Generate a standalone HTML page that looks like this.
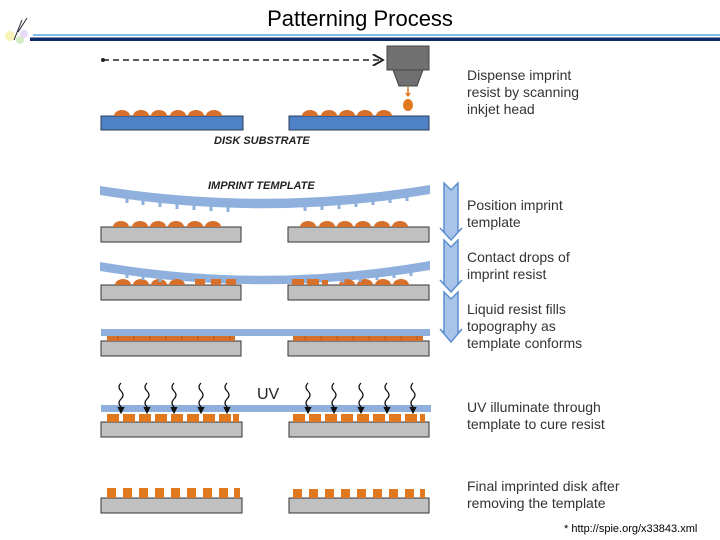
<!DOCTYPE html>
<html><head><meta charset="utf-8"><style>
body{margin:0;background:#fff;}
svg{display:block;}
text{font-family:"Liberation Sans",sans-serif;}
</style></head><body>
<svg width="720" height="540" viewBox="0 0 720 540" xmlns="http://www.w3.org/2000/svg">
<defs>
<marker id="ah" markerWidth="8" markerHeight="8" refX="7" refY="4" orient="auto"><path d="M0,0 L7,4 L0,8" fill="none" stroke="#222" stroke-width="1.3"/></marker>
<marker id="ak" markerWidth="6" markerHeight="6" refX="5" refY="3" orient="auto"><path d="M0,0 L6,3 L0,6 Z" fill="#111"/></marker>
</defs>
<!-- logo -->
<circle cx="10" cy="36" r="5" fill="#f3e98a" opacity=".6"/>
<circle cx="20" cy="40" r="4" fill="#b8e0a0" opacity=".6"/>
<circle cx="24" cy="34" r="4" fill="#d9c0f0" opacity=".6"/>
<path d="M14,40 L22,20 M18,32 L27,18" stroke="#223" stroke-width="1" fill="none"/>
<!-- title -->
<text x="360" y="26" font-size="22" text-anchor="middle" fill="#000">Patterning Process</text>
<rect x="33" y="34" width="687" height="2" fill="#7fbfe6"/>
<rect x="30" y="37.5" width="690" height="3.5" fill="#0c2a6a"/>
<!-- row 1 -->
<line x1="103" y1="60" x2="383" y2="60" stroke="#222" stroke-width="1.5" stroke-dasharray="6,4" marker-end="url(#ah)"/>
<circle cx="103" cy="60" r="2" fill="#222"/>
<rect x="387" y="46" width="42" height="24" fill="#707070" stroke="#444"/>
<path d="M393,70 L423,70 L417,86 L399,86 Z" fill="#707070" stroke="#444"/>
<line x1="408" y1="87" x2="408" y2="96" stroke="#e07820" stroke-width="1.5"/>
<path d="M405,93 L408,97 L411,93" fill="#e07820"/>
<ellipse cx="408" cy="105" rx="5" ry="6" fill="#e07820"/>
<rect x="101" y="116" width="142" height="14" fill="#4f81c7" stroke="#2a3d5a"/>
<rect x="289" y="116" width="140" height="14" fill="#4f81c7" stroke="#2a3d5a"/>
<g fill="#d6702a">
<path d="M114,116 a8,6 0 0 1 16,0Z M133,116 a8,6 0 0 1 16,0Z M151,116 a8,6 0 0 1 16,0Z M170,116 a8,6 0 0 1 16,0Z M188,116 a8,6 0 0 1 16,0Z M206,116 a8,6 0 0 1 16,0Z"/>
<path d="M302,116 a8,6 0 0 1 16,0Z M321,116 a8,6 0 0 1 16,0Z M339,116 a8,6 0 0 1 16,0Z M357,116 a8,6 0 0 1 16,0Z M376,116 a8,6 0 0 1 16,0Z"/>
</g>
<text x="214" y="144" font-size="11" font-weight="bold" font-style="italic" fill="#222">DISK SUBSTRATE</text>
<!-- row 2 -->
<text x="208" y="189" font-size="11" font-weight="bold" font-style="italic" fill="#222">IMPRINT TEMPLATE</text>
<path d="M100,186 Q265,212 430,185 L430,194 Q265,222 100,195 Z" fill="#8fb0dc"/>
<g stroke="#8fb0dc" stroke-width="3">
<line x1="127" y1="197" x2="127" y2="203"/><line x1="143" y1="199" x2="143" y2="205"/><line x1="160" y1="201" x2="160" y2="207"/><line x1="177" y1="203" x2="177" y2="209"/><line x1="194" y1="204" x2="194" y2="210"/><line x1="211" y1="205" x2="211" y2="211"/><line x1="228" y1="206" x2="228" y2="212"/>
<line x1="305" y1="205" x2="305" y2="211"/><line x1="322" y1="204" x2="322" y2="210"/><line x1="339" y1="203" x2="339" y2="209"/><line x1="356" y1="201" x2="356" y2="207"/><line x1="373" y1="199" x2="373" y2="205"/><line x1="390" y1="197" x2="390" y2="203"/><line x1="407" y1="195" x2="407" y2="201"/>
</g>
<rect x="101" y="227" width="140" height="15" fill="#c0c0c0" stroke="#333"/>
<rect x="288" y="227" width="141" height="15" fill="#c0c0c0" stroke="#333"/>
<g fill="#d6702a">
<path d="M113,227 a8,6 0 0 1 16,0Z M132,227 a8,6 0 0 1 16,0Z M150,227 a8,6 0 0 1 16,0Z M168,227 a8,6 0 0 1 16,0Z M187,227 a8,6 0 0 1 16,0Z M205,227 a8,6 0 0 1 16,0Z"/>
<path d="M300,227 a8,6 0 0 1 16,0Z M319,227 a8,6 0 0 1 16,0Z M337,227 a8,6 0 0 1 16,0Z M355,227 a8,6 0 0 1 16,0Z M374,227 a8,6 0 0 1 16,0Z M392,227 a8,6 0 0 1 16,0Z"/>
</g>
<!-- row 3 -->
<path d="M100,262 Q265,290 430,261 L430,270 Q265,298 100,271 Z" fill="#8fb0dc"/>
<rect x="101" y="285" width="140" height="15" fill="#c0c0c0" stroke="#333"/>
<rect x="288" y="285" width="141" height="15" fill="#c0c0c0" stroke="#333"/>
<g fill="#d6702a">
<path d="M115,285 a8,6 0 0 1 16,0Z M133,285 a8,6 0 0 1 16,0Z M151,285 a8,6 0 0 1 16,0Z M169,285 a8,6 0 0 1 16,0Z"/>
<rect x="195" y="279" width="10" height="6"/><rect x="211" y="279" width="10" height="6"/><rect x="226" y="279" width="10" height="6"/>
<rect x="292" y="279" width="12" height="6"/><rect x="307" y="279" width="12" height="6"/><rect x="322" y="280" width="6" height="5"/>
<path d="M339,285 a8,6 0 0 1 16,0Z M357,285 a8,6 0 0 1 16,0Z M375,285 a8,6 0 0 1 16,0Z M393,285 a8,6 0 0 1 16,0Z"/>
</g>
<g stroke="#8fb0dc" stroke-width="3">
<line x1="127" y1="272" x2="127" y2="278"/><line x1="143" y1="274" x2="143" y2="280"/><line x1="160" y1="276" x2="160" y2="282"/>
<line x1="343" y1="277" x2="343" y2="283"/><line x1="360" y1="276" x2="360" y2="282"/><line x1="377" y1="274" x2="377" y2="280"/><line x1="394" y1="272" x2="394" y2="278"/><line x1="411" y1="270" x2="411" y2="276"/>
</g>
<!-- row 4 -->
<rect x="101" y="329" width="329" height="7" fill="#8fb0dc"/>
<rect x="101" y="341" width="140" height="15" fill="#c0c0c0" stroke="#333"/>
<rect x="288" y="341" width="141" height="15" fill="#c0c0c0" stroke="#333"/>
<g fill="#d6702a">
<rect x="107" y="336" width="128" height="5"/><rect x="293" y="336" width="130" height="5"/>
</g>
<g fill="#b35a1e" opacity=".5">
<rect x="117" y="336" width="2" height="4"/><rect x="133" y="336" width="2" height="4"/><rect x="149" y="336" width="2" height="4"/><rect x="165" y="336" width="2" height="4"/><rect x="181" y="336" width="2" height="4"/><rect x="197" y="336" width="2" height="4"/><rect x="213" y="336" width="2" height="4"/><rect x="229" y="336" width="2" height="4"/>
<rect x="304" y="336" width="2" height="4"/><rect x="320" y="336" width="2" height="4"/><rect x="336" y="336" width="2" height="4"/><rect x="352" y="336" width="2" height="4"/><rect x="368" y="336" width="2" height="4"/><rect x="384" y="336" width="2" height="4"/><rect x="400" y="336" width="2" height="4"/><rect x="416" y="336" width="2" height="4"/>
</g>
<!-- right arrows -->
<g fill="#a9c4e8" stroke="#5b8fd0" stroke-width="1.5">
<path d="M444,183 L451,190 L458,183 L458,232 L462,228 L451,240 L440,228 L444,232 Z"/>
<path d="M444,240 L451,247 L458,240 L458,284 L462,280 L451,292 L440,280 L444,284 Z"/>
<path d="M444,292 L451,299 L458,292 L458,333 L462,329 L451,342 L440,329 L444,333 Z"/>
</g>
<!-- row 5 UV -->
<rect x="101" y="405" width="330" height="7" fill="#8fb0dc"/>
<rect x="101" y="422" width="141" height="15" fill="#c0c0c0" stroke="#333"/>
<rect x="289" y="422" width="140" height="15" fill="#c0c0c0" stroke="#333"/>
<g fill="#e07820">
<rect x="107" y="414" width="12" height="8"/><rect x="123" y="414" width="12" height="8"/><rect x="139" y="414" width="12" height="8"/><rect x="155" y="414" width="12" height="8"/><rect x="171" y="414" width="12" height="8"/><rect x="187" y="414" width="12" height="8"/><rect x="203" y="414" width="12" height="8"/><rect x="219" y="414" width="12" height="8"/><rect x="233" y="414" width="6" height="8"/>
<rect x="293" y="414" width="12" height="8"/><rect x="309" y="414" width="12" height="8"/><rect x="325" y="414" width="12" height="8"/><rect x="341" y="414" width="12" height="8"/><rect x="357" y="414" width="12" height="8"/><rect x="373" y="414" width="12" height="8"/><rect x="389" y="414" width="12" height="8"/><rect x="405" y="414" width="12" height="8"/><rect x="420" y="414" width="5" height="8"/>
</g>
<g fill="none" stroke="#111" stroke-width="1.2" marker-end="url(#ak)">
<path id="sq" d="M121,383 q-4,4 0,8 q4,4 0,8 q-4,4 0,8 l0,6"/>
<use href="#sq" x="26"/><use href="#sq" x="53"/><use href="#sq" x="80"/><use href="#sq" x="106"/>
<use href="#sq" x="187"/><use href="#sq" x="213"/><use href="#sq" x="240"/><use href="#sq" x="266"/><use href="#sq" x="292"/>
</g>
<text x="257" y="399" font-size="16" fill="#222">UV</text>
<!-- row 6 -->
<rect x="101" y="498" width="141" height="15" fill="#c0c0c0" stroke="#333"/>
<rect x="289" y="498" width="140" height="15" fill="#c0c0c0" stroke="#333"/>
<g fill="#e07820">
<rect x="107" y="488" width="9" height="10"/><rect x="123" y="488" width="9" height="10"/><rect x="139" y="488" width="9" height="10"/><rect x="155" y="488" width="9" height="10"/><rect x="171" y="488" width="9" height="10"/><rect x="187" y="488" width="9" height="10"/><rect x="203" y="488" width="9" height="10"/><rect x="219" y="488" width="9" height="10"/><rect x="234" y="488" width="6" height="10"/>
<rect x="293" y="489" width="9" height="9"/><rect x="309" y="489" width="9" height="9"/><rect x="325" y="489" width="9" height="9"/><rect x="341" y="489" width="9" height="9"/><rect x="357" y="489" width="9" height="9"/><rect x="373" y="489" width="9" height="9"/><rect x="389" y="489" width="9" height="9"/><rect x="405" y="489" width="9" height="9"/><rect x="420" y="489" width="5" height="9"/>
</g>
<!-- right texts -->
<g font-size="14" fill="#333">
<text x="467" y="80">Dispense imprint</text>
<text x="467" y="97">resist by scanning</text>
<text x="467" y="114">inkjet head</text>
<text x="467" y="210">Position imprint</text>
<text x="467" y="227">template</text>
<text x="467" y="262">Contact drops of</text>
<text x="467" y="279">imprint resist</text>
<text x="467" y="314">Liquid resist fills</text>
<text x="467" y="331">topography as</text>
<text x="467" y="348">template conforms</text>
<text x="467" y="412">UV illuminate through</text>
<text x="467" y="429">template to cure resist</text>
<text x="467" y="491">Final imprinted disk after</text>
<text x="467" y="508">removing the template</text>
</g>
<text x="564" y="532" font-size="11" fill="#000">* http://spie.org/x33843.xml</text>
</svg>
</body></html>
